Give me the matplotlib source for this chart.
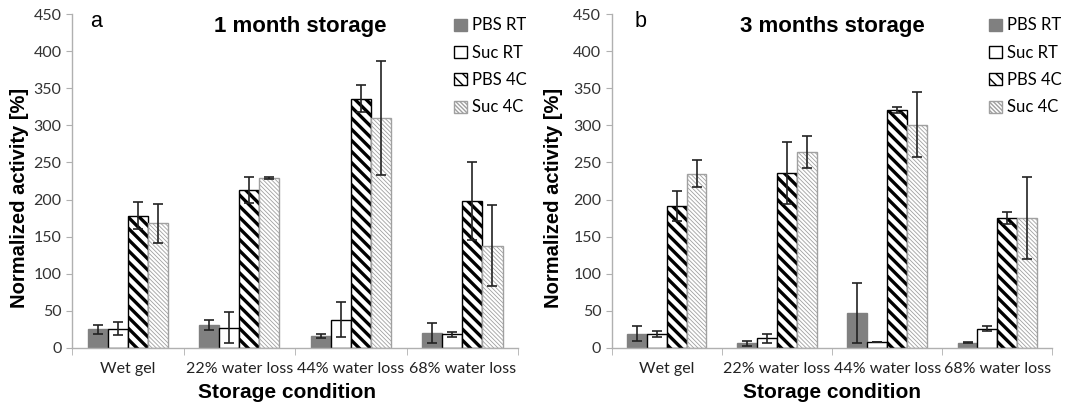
import numpy as np
import matplotlib
matplotlib.use("Agg")
import matplotlib.pyplot as plt

# categories and series
conditions = ["Wet gel", "22% water loss", "44% water loss", "68% water loss"]
series = ["PBS RT", "Suc RT", "PBS 4C", "Suc 4C"]

# panel a: 1 month storage
a_pbs_rt = [25, 31, 16, 20]
a_suc_rt = [26, 27, 38, 18]
a_pbs_4c = [178, 213, 336, 198]
a_suc_4c = [168, 229, 310, 138]
a_pbs_rt_err = [6, 7, 3, 14]
a_suc_rt_err = [9, 21, 24, 3]
a_pbs_4c_err = [18, 18, 18, 52]
a_suc_4c_err = [26, 1.5, 77, 55]

# panel b: 3 months storage
b_pbs_rt = [19, 6, 47, 7]
b_suc_rt = [19, 13, 8, 26]
b_pbs_4c = [191, 236, 321, 175]
b_suc_4c = [235, 264, 301, 175]
b_pbs_rt_err = [10, 3, 40, 1]
b_suc_rt_err = [4, 6, 0.5, 3]
b_pbs_4c_err = [20, 42, 4, 8]
b_suc_4c_err = [18, 21, 44, 55]

panels = [
    ("a", "1 month storage",
     [a_pbs_rt, a_suc_rt, a_pbs_4c, a_suc_4c],
     [a_pbs_rt_err, a_suc_rt_err, a_pbs_4c_err, a_suc_4c_err]),
    ("b", "3 months storage",
     [b_pbs_rt, b_suc_rt, b_pbs_4c, b_suc_4c],
     [b_pbs_rt_err, b_suc_rt_err, b_pbs_4c_err, b_suc_4c_err]),
]

# bar styles: facecolor, edgecolor, hatch, hatch linewidth
styles = [
    ("#808080", "#808080", None, 1.0),
    ("white", "black", None, 1.0),
    ("white", "black", "\\\\\\", 2.4),
    ("white", "#a0a0a0", "\\\\\\\\\\\\\\\\", 0.6),
]

label_font = ["Liberation Sans", "DejaVu Sans"]
tick_font = ["Lato", "DejaVu Sans"]

fig = plt.figure(figsize=(10.75, 4.04), dpi=100)
axes = [fig.add_axes([0.067, 0.139, 0.415, 0.826]),
        fig.add_axes([0.569, 0.139, 0.410, 0.826])]
ylab_x = [-0.117, -0.132]
xlab_x = [0.482, 0.50]
letter_x = [0.04, 0.052]
title_x = [0.511, 0.50]

x = np.arange(len(conditions))
w = 0.18
for k, (ax, (letter, title, vals, errs)) in enumerate(zip(axes, panels)):
    for i, (name, v, e, st) in enumerate(zip(series, vals, errs, styles)):
        fc, ec, hatch, hlw = st
        pos = x + (i - 1.5) * w
        bars = ax.bar(pos, v, width=w, facecolor=fc, edgecolor=ec,
                      hatch=hatch, linewidth=1.0, label=name, zorder=2)
        for b in bars:
            try:
                b.set_hatch_linewidth(hlw)
            except AttributeError:
                pass
        ax.errorbar(pos, v, yerr=e, fmt="none", ecolor="#222222",
                    elinewidth=1.2, capsize=3.5, capthick=1.2, zorder=3)

    ax.set_xlim(-0.5, 3.5)
    ax.set_ylim(0, 450)
    ax.set_yticks(np.arange(0, 451, 50))
    ax.set_xticks(x)
    ax.set_xticklabels(conditions, fontfamily=tick_font, fontsize=11.5)
    ax.set_xticks(np.arange(-0.5, 3.6, 1), minor=True)
    ax.tick_params(axis="x", which="major", length=0, pad=10)
    ax.tick_params(axis="x", which="minor", length=5, color="#b0b0b0")
    ax.tick_params(axis="y", length=4, color="#b0b0b0", labelsize=11.5)
    for lab in ax.get_yticklabels():
        lab.set_fontfamily(tick_font)
        lab.set_color("#333333")
    for lab in ax.get_xticklabels():
        lab.set_color("#222222")
    for s in ["top", "right"]:
        ax.spines[s].set_visible(False)
    for s in ["left", "bottom"]:
        ax.spines[s].set_color("#b0b0b0")
        ax.spines[s].set_linewidth(1.0)

    ax.set_ylabel("Normalized activity [%]", fontfamily=label_font,
                  fontweight="bold", fontsize=14.5, va="center")
    ax.yaxis.set_label_coords(ylab_x[k], 0.45)
    ax.set_xlabel("Storage condition", fontfamily=label_font,
                  fontweight="bold", fontsize=15, va="center")
    ax.xaxis.set_label_coords(xlab_x[k], -0.133)
    ax.text(letter_x[k], 0.979, letter, transform=ax.transAxes,
            fontfamily=label_font, fontsize=15.5, va="center", ha="left")
    ax.text(title_x[k], 0.962, title, transform=ax.transAxes,
            fontfamily=label_font, fontweight="bold", fontsize=16,
            va="center", ha="center")

    ax.legend(loc="upper left", bbox_to_anchor=(0.842, 1.01), frameon=False,
              handlelength=0.75, handleheight=0.75, handletextpad=0.3,
              labelspacing=0.68, borderaxespad=0,
              prop={"family": tick_font, "size": 12})

fig.savefig("out.png", dpi=100)
